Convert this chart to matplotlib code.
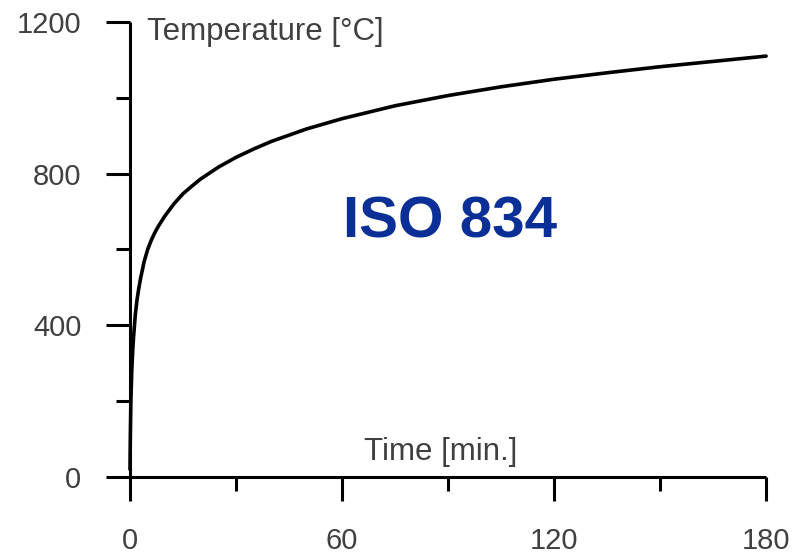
import matplotlib
matplotlib.use("Agg")
import matplotlib.pyplot as plt
from matplotlib.ticker import MultipleLocator

# Standard fire curve: time [min] vs furnace temperature [°C]
time_min = [0, 0.1, 0.25, 0.5, 0.75, 1, 1.5, 2, 2.5, 3, 4, 5, 6, 7, 8, 10, 12.5, 15, 17.5,
            20, 25, 30, 35, 40, 50, 60, 75, 90, 105, 120, 135, 150, 165, 180]
temp_c = [20, 110, 200, 280, 330, 368, 428, 468, 498, 524, 568, 600, 624, 644, 661, 690,
          721, 747, 767, 786, 817, 843, 865, 885, 918, 945, 979, 1006, 1029, 1049, 1066,
          1082, 1096, 1110]

x_ticks = [0, 60, 120, 180]
y_ticks = [0, 400, 800, 1200]

plt.rcParams['font.family'] = ['Liberation Sans', 'DejaVu Sans']

fig = plt.figure(figsize=(7.98, 5.58), dpi=100)
ax = fig.add_axes([0.1629, 0.1452, 0.7971, 0.8154])

ax.plot(time_min, temp_c, color='black', lw=2.6, solid_capstyle='round',
        solid_joinstyle='round', clip_on=False)

ax.set_xlim(0, 180)
ax.set_ylim(0, 1200)
ax.set_xticks(x_ticks)
ax.set_yticks(y_ticks)
ax.xaxis.set_minor_locator(MultipleLocator(30))
ax.yaxis.set_minor_locator(MultipleLocator(200))

for side in ('top', 'right'):
    ax.spines[side].set_visible(False)
for side in ('left', 'bottom'):
    ax.spines[side].set_linewidth(2.2)
    ax.spines[side].set_capstyle('butt')

txt = '#404040'
ax.tick_params(which='major', direction='out', length=17, width=2.2, color='black',
               labelsize=21, labelcolor=txt)
ax.tick_params(axis='y', which='major', pad=18)
ax.tick_params(axis='x', which='major', pad=19)
ax.tick_params(which='minor', direction='out', length=10, width=2.2, color='black')

ax.text(0.027, 0.978, 'Temperature [°C]', transform=ax.transAxes, fontsize=22.5,
        color=txt, ha='left', va='center')
ax.text(0.489, 0.055, 'Time [min.]', transform=ax.transAxes, fontsize=22.5,
        color=txt, ha='center', va='center')
ax.text(0.503, 0.56, 'ISO 834', transform=ax.transAxes, fontsize=42,
        fontweight='bold', color='#0a2f96', ha='center', va='center')

fig.savefig('out.png', dpi=100)
